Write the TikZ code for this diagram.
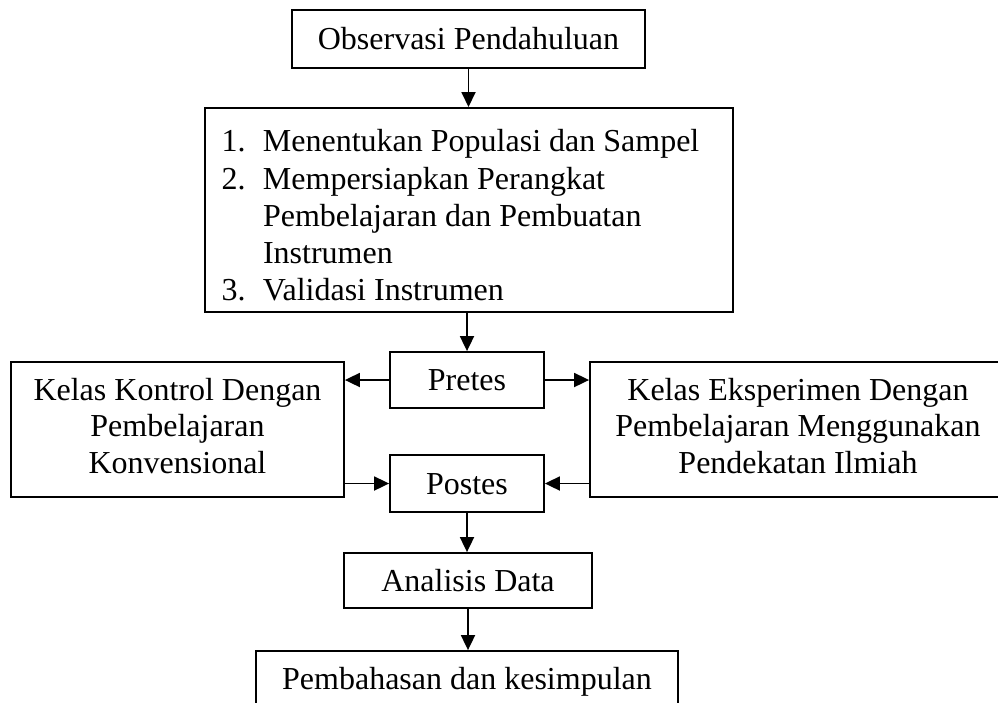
\documentclass[tikz,border=0pt]{standalone}
\usepackage{fontspec}
\setmainfont{Liberation Serif}
\usetikzlibrary{arrows.meta,calc}
\begin{document}
\begin{tikzpicture}[x=1pt,y=-1pt,
  box/.style={draw, line width=1.8pt, rectangle, inner sep=0pt, font=\fontsize{32}{36.5}\selectfont},
  single/.style={box, text height=21.8pt, text depth=0pt},
  conn/.style={line width=1.8pt, -{Triangle[length=15pt,width=14pt]}}]
\clip (0,0) rectangle (998,702);
\node[single, minimum width=353pt, minimum height=58pt] (obs) at (468.5,39) {Observasi Pendahuluan};
\node[box, minimum width=528pt, minimum height=196pt, font=\fontsize{32}{37.25}\selectfont] (prep) at (469,210)
  {\makebox[528pt][l]{\hspace*{16.5pt}\begin{tabular}{@{}l@{}l@{}}
   \rule{0pt}{44pt}\makebox[41.5pt][l]{1.} & Menentukan Populasi dan Sampel\\
   \makebox[41.5pt][l]{2.} & Mempersiapkan Perangkat\\
    & Pembelajaran dan Pembuatan\\
    & Instrumen\\
   \makebox[41.5pt][l]{3.} & Validasi Instrumen
  \end{tabular}}};
\fill[white] ($(prep.south west)+(2,-11.9)$) rectangle ($(prep.south east)+(-2,-2)$);
\node[single, minimum width=154pt, minimum height=56pt] (pretes) at (467,380) {Pretes};
\node[single, minimum width=154pt, minimum height=57pt] (postes) at (467,483.5) {Postes};
\node[box, minimum width=333pt, minimum height=135pt] (kontrol) at (177.5,429.5)
  {\begin{tabular}{@{}c@{}}Kelas Kontrol Dengan\\ Pembelajaran\\ Konvensional\end{tabular}};
\node[box, minimum width=416pt, minimum height=135pt] (eks) at (798,429.5)
  {\begin{tabular}{@{}c@{}}Kelas Eksperimen Dengan\\ Pembelajaran Menggunakan\\ Pendekatan Ilmiah\end{tabular}};
\node[single, minimum width=248pt, minimum height=55pt] (ana) at (468,580.5) {Analisis Data};
\node[single, minimum width=422pt, minimum height=56pt] (pem) at (467,679) {Pembahasan dan kesimpulan};
\draw[conn] (obs.south) -- (obs.south |- prep.north);
\draw[conn] (pretes.north |- prep.south) -- (pretes.north);
\draw[conn] (pretes.west) -- (pretes.west -| kontrol.east);
\draw[conn] (pretes.east) -- (pretes.east -| eks.west);
\draw[conn] (postes.west -| kontrol.east) -- (postes.west);
\draw[conn] (postes.east -| eks.west) -- (postes.east);
\draw[conn] (postes.south) -- (postes.south |- ana.north);
\draw[conn] (ana.south) -- (ana.south |- pem.north);
\end{tikzpicture}
\end{document}
